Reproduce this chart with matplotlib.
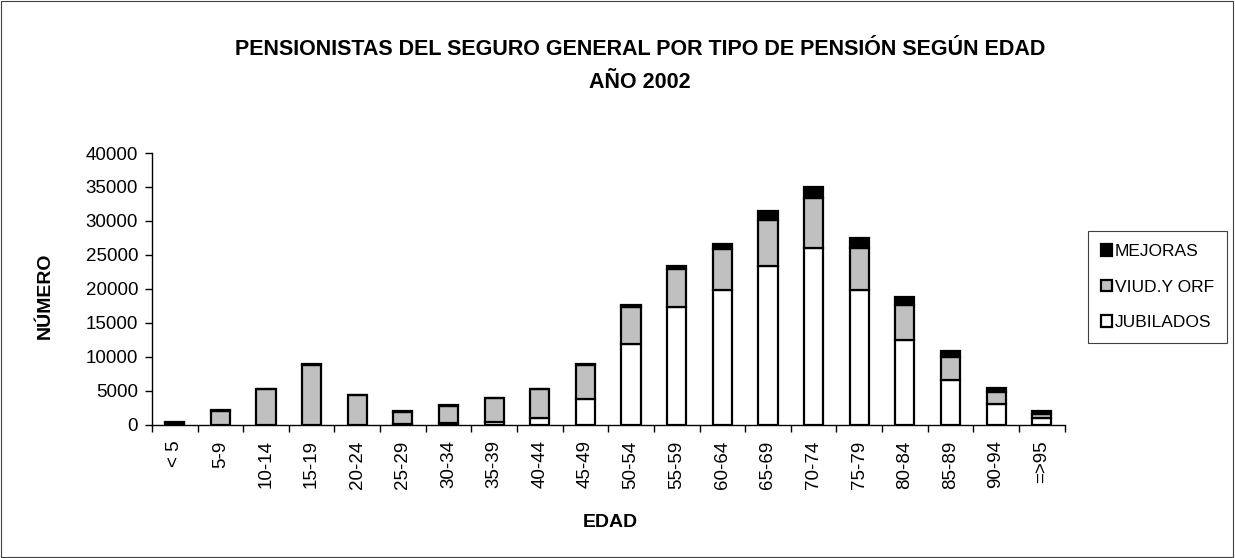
import matplotlib.pyplot as plt
import numpy as np
from matplotlib.patches import Rectangle

plt.rcParams['font.family'] = ['Liberation Sans', 'DejaVu Sans']

# --- data ---
edades = ['< 5', '5-9', '10-14', '15-19', '20-24', '25-29', '30-34', '35-39',
          '40-44', '45-49', '50-54', '55-59', '60-64', '65-69', '70-74',
          '75-79', '80-84', '85-89', '90-94', '=>95']
jubilados = [0, 0, 0, 0, 0, 150, 300, 500, 1080, 3780, 11900, 17300, 19900,
             23450, 26100, 19800, 12500, 6630, 3040, 1080]
viud_orf = [350, 2100, 5300, 8850, 4400, 1800, 2550, 3400, 4170, 5020, 5500,
            5700, 6000, 6650, 7270, 6300, 5170, 3430, 1860, 540]
mejoras = [50, 50, 50, 50, 50, 50, 50, 50, 50, 100, 250, 450, 750, 1350,
           1680, 1400, 1130, 840, 500, 440]


def main():
    fig = plt.figure(figsize=(12.35, 5.58), dpi=100)
    ax = fig.add_axes([0.123, 0.2384, 0.739, 0.4874])

    x = np.arange(len(edades))
    jub = np.array(jubilados)
    viu = np.array(viud_orf)
    mej = np.array(mejoras)
    w = 0.42
    kw = dict(width=w, edgecolor='black', linewidth=1.6)

    b1 = ax.bar(x, jub, color='white', label='JUBILADOS', **kw)
    b2 = ax.bar(x, viu, bottom=jub, color='#c0c0c0', label='VIUD.Y ORF', **kw)
    b3 = ax.bar(x, mej, bottom=jub + viu, color='black', label='MEJORAS', **kw)

    ax.set_xlim(-0.5, len(edades) - 0.5)
    ax.set_ylim(0, 40000)
    ax.set_yticks(np.arange(0, 40001, 5000))
    ax.tick_params(axis='y', direction='out', length=5, width=1, labelsize=13.5, pad=5)

    ax.set_xticks(x)
    ax.set_xticklabels(edades, rotation=90, fontsize=13.5)
    ax.tick_params(axis='x', which='major', length=0, pad=11)
    ax.set_xticks(np.arange(-0.5, len(edades)), minor=True)
    ax.tick_params(axis='x', which='minor', direction='out', length=5, width=1)

    for s in ['top', 'right']:
        ax.spines[s].set_visible(False)
    for s in ['left', 'bottom']:
        ax.spines[s].set_linewidth(1)

    ax.set_ylabel('NÚMERO', fontsize=14, fontweight='bold', va='center', ha='center')
    ax.yaxis.set_label_coords(-0.117, 0.474)
    ax.set_xlabel('EDAD', fontsize=14, fontweight='bold', va='center', ha='center')
    ax.xaxis.set_label_coords(0.502, -0.357)

    # title in two lines, placed by baseline
    fig.text(0.518, 0.9014, 'PENSIONISTAS DEL SEGURO GENERAL POR TIPO DE PENSIÓN SEGÚN EDAD',
             ha='center', va='baseline', fontsize=15.5, fontweight='bold')
    fig.text(0.518, 0.8423, 'AÑO 2002',
             ha='center', va='baseline', fontsize=15.5, fontweight='bold')

    leg = fig.legend([b3, b2, b1], ['MEJORAS', 'VIUD.Y ORF', 'JUBILADOS'],
                     loc='upper left', bbox_to_anchor=(0.881, 0.586),
                     fontsize=12.5, handlelength=0.62, handleheight=0.62,
                     handletextpad=0.17, labelspacing=1.18, borderpad=0.75,
                     borderaxespad=0, fancybox=False, framealpha=1)
    leg.get_frame().set_edgecolor('#404040')
    leg.get_frame().set_linewidth(0.8)

    fig.patches.append(Rectangle((0.001, 0.002), 0.997, 0.996, transform=fig.transFigure,
                                 fill=False, edgecolor='#404040', linewidth=0.8))

    fig.savefig('out.png', dpi=100)


if __name__ == '__main__':
    main()
